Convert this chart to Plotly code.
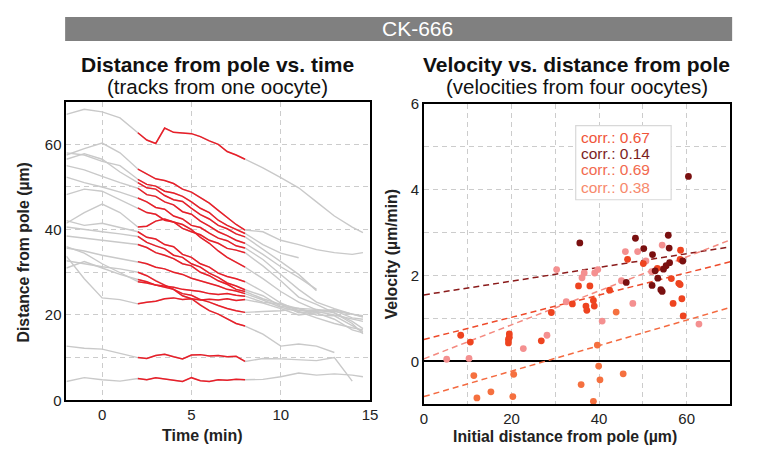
import plotly.graph_objects as go

# ---------------- data: left panel (tracks) ----------------
time_min = [-2, -1, 0, 1, 2, 2.5, 3, 3.5, 4, 4.5, 5, 5.5, 6, 6.5, 7, 7.5, 8,
            9, 10, 11, 12, 13, 14, 14.6]
red_start, red_end = 2, 8  # window used for velocity (min)

track_01 = [67.0, 68.2, 67.6, 66.2, 62.7, 61.0, 60.2, 63.8, 62.8, 62.6, 62.5, 61.8, 60.8, 60.0, 58.3, 57.5, 56.5, 54.5, 52.2, 49.8, 46.5, 43.2, 40.6, 39.3]
track_02 = [57.5, 59.0, 60.3, 58.0, 54.2, 53.0, 51.9, 51.5, 50.8, 49.5, 48.8, 47.5, 46.2, 44.5, 42.8, 41.2, 39.9, 39.5, 37.5, 36.5, 35.3, 34.6, 34.2, 34.6]
track_03 = [58.0, 57.5, 56.0, 55.0, 51.8, 50.6, 50.2, 49.0, 48.6, 47.8, 46.5, 45.0, 44.0, 42.2, 41.0, 40.1, 39.1, 36.5, 34.5, 33.4, None, None, None, None]
track_04 = [56.5, 57.8, 56.5, 53.5, 51.0, 49.8, 49.5, 48.0, 47.0, 46.6, 45.0, 43.5, 42.5, 41.0, 40.2, 39.0, 38.3, 35.5, 32.5, 29.5, 25.7, None, None, None]
track_05 = [55.0, 54.0, 52.5, 51.0, 49.7, 48.2, 47.8, 46.5, 45.8, 44.2, 43.6, 42.0, 40.8, 39.5, 38.6, 37.5, 36.8, 34.2, 31.3, 28.8, 26.0, None, None, None]
track_06 = [52.3, 51.0, 50.0, 48.8, 47.4, 46.5, 45.2, 44.8, 43.2, 42.5, 41.0, 40.5, 39.2, 38.0, 37.4, 36.2, 35.7, 33.0, 29.5, 26.0, 23.0, 21.5, 20.2, 19.5]
track_07 = [48.2, 49.5, 49.0, 47.0, 45.1, 44.0, 43.6, 42.2, 41.8, 40.3, 39.5, 38.8, 37.5, 36.8, 35.6, 35.2, 34.6, 31.5, 28.0, 24.2, 22.5, 20.5, 18.5, 16.8]
track_08 = [41.5, 44.0, 46.0, 44.0, 40.6, 40.8, 42.0, 42.5, 41.8, 41.2, 40.0, 38.2, 36.8, 35.0, 33.5, 32.4, 31.2, 28.5, 25.5, 23.0, 21.2, 20.5, 18.0, 15.6]
track_09 = [42.1, 41.0, 41.5, 40.5, 39.5, 38.2, 37.8, 36.5, 36.0, 34.2, 33.5, 32.0, 31.2, 29.8, 29.0, 28.5, 27.8, 25.5, 22.8, 21.0, 21.0, 21.2, 20.2, 19.8]
track_10 = [40.6, 40.0, 39.5, 39.0, 38.4, 37.0, 36.2, 35.5, 34.0, 33.5, 32.0, 31.2, 29.8, 28.8, 27.5, 26.8, 25.9, 24.5, 22.0, 21.5, 20.0, 19.8, 17.5, 16.1]
track_11 = [38.5, 38.0, 37.5, 37.0, 36.5, 35.8, 34.6, 34.0, 33.2, 32.0, 31.5, 30.0, 29.2, 28.0, 27.2, 26.0, 25.5, 23.8, 22.5, 20.5, 20.8, 20.0, 19.0, 18.5]
track_12 = [35.7, 35.0, 34.0, 33.2, 32.5, 32.0, 31.2, 30.8, 30.0, 29.5, 28.6, 28.0, 27.3, 26.8, 26.0, 25.6, 25.0, 23.5, 21.8, 20.8, 19.3, 18.0, 17.0, 16.5]
track_13 = [32.7, 32.0, 31.3, 30.8, 30.0, 29.2, 28.0, 27.0, 26.0, 24.5, 23.8, 22.3, 21.0, 20.2, 19.0, 18.0, 17.4, 15.5, 12.7, 13.2, 12.7, 11.2, None, None]
track_14 = [31.0, 32.5, 31.0, 29.5, 28.3, 27.8, 27.0, 26.5, 26.0, 25.0, 24.6, 23.6, 23.0, 22.2, 21.5, 21.0, 20.6, 20.8, 21.0, 21.5, 21.3, 20.8, 20.2, 19.6]
track_15 = [36.0, 34.5, 32.0, 29.8, 27.8, 27.5, 27.0, 26.8, 26.5, 26.0, 25.7, 25.5, 25.0, 24.8, 25.0, 24.6, 24.4, 23.0, 22.5, 21.5, 20.5, 19.0, 16.5, 15.8]
track_16 = [33.8, 28.5, 24.0, 23.6, 22.6, 23.0, 23.2, 23.8, 24.0, 23.6, 23.8, 23.5, 23.7, 23.5, 23.8, 23.4, 23.6, 22.8, 21.5, 20.0, 20.5, 21.0, 19.3, 19.0]
track_17 = [12.7, 12.2, 12.0, 11.0, 10.0, 9.8, 10.5, 10.8, 10.2, 9.7, 10.6, 10.7, 10.4, 10.5, 10.2, 10.3, 9.1, 9.8, 9.7, 9.5, 9.3, 10.0, 4.5, None]
track_18 = [4.4, 5.3, 4.8, 4.5, 5.1, 4.8, 5.3, 5.0, 4.8, 4.4, 5.3, 4.6, 4.4, 4.8, 4.7, 4.9, 4.8, 4.9, 5.5, 6.4, 5.9, 6.2, 5.9, 5.5]

tracks = [track_01, track_02, track_03, track_04, track_05, track_06, track_07,
          track_08, track_09, track_10, track_11, track_12, track_13, track_14,
          track_15, track_16, track_17, track_18]

# ---------------- data: right panel (velocities) ----------------
s1_dist = [35.3, 33.9, 29.1, 8.4, 10.6, 19.5, 19.5, 19.3, 19.3, 26.8, 37.9, 42.4, 38.7, 38.9,
           37.0, 37.2, 46.5, 50.1, 53.3, 56.5, 58.2, 58.5, 58.6, 58.5, 56.9, 58.9, 59.2]
s1_vel = [1.76, 1.34, 1.14, 0.61, 0.45, 0.64, 0.56, 0.51, 0.43, 0.48, 1.76, 1.66, 1.42, 1.29,
          1.29, 1.19, 2.38, 2.28, 2.17, 1.93, 1.82, 1.79, 2.59, 2.38, 1.35, 1.46, 1.06]
s2_dist = [35.6, 48.3, 55.8, 56.0, 50.2, 52.2, 59.1, 56.1, 55.3, 52.8, 54.7, 53.4, 46.2,
           52.1, 54.1, 54.4, 60.4]
s2_vel = [2.76, 2.87, 2.94, 2.64, 2.63, 2.49, 2.34, 2.30, 2.23, 2.11, 2.15, 1.94, 1.84,
          1.77, 1.67, 1.63, 4.31]
s3_dist = [5.2, 10.3, 22.7, 28.1, 30.3, 32.5, 36.6, 36.1, 39.0, 39.7, 45.1, 46.0, 48.8,
           54.4, 50.7, 52.0, 47.7, 40.7, 62.8]
s3_vel = [0.05, 0.07, 0.30, 0.61, 2.14, 1.39, 2.06, 1.95, 2.06, 2.14, 1.88, 2.56, 2.56,
          2.71, 2.34, 2.09, 1.35, 0.94, 0.87]
s4_dist = [11.4, 20.5, 15.3, 12.1, 20.3, 35.9, 39.9, 45.5, 40.2, 38.7, 39.6, 43.9]
s4_vel = [-0.33, -0.30, -0.71, -0.85, -0.82, -0.54, -0.11, -0.29, -0.43, -0.93, 0.38, 1.15]

fit_intercepts = [0.51, 1.55, 0.06, -0.82]
fit_slopes = [0.0259, 0.0160, 0.0396, 0.0297]
corr_labels = ["corr.: 0.67", "corr.: 0.14", "corr.: 0.69", "corr.: 0.38"]

# styles
marker_colors = ["#EE4420", "#7A1010", "#F49090", "#F5703F"]
line_colors = ["#EE4A2A", "#8A1A1A", "#F48A80", "#F46A40"]
legend_text_colors = ["#F0553A", "#7B1E1E", "#F26A4F", "#F7896C"]
GRAY = "#C9C9C9"
RED = "#EA1E28"
FONT = "Liberation Sans, Arial, sans-serif"

# the page body keeps its default 8px margin, so the figure is sized to fit the window
OX, OY = 8, 8
W, H = 741, 445


def px(x):
    return (x - OX) / W


def py(y):
    return 1 - (y - OY) / H


fig = go.Figure()

# left panel tracks
for tr in tracks:
    fig.add_trace(go.Scatter(x=time_min, y=tr, mode="lines",
                             line=dict(color=GRAY, width=1.4),
                             connectgaps=False, hoverinfo="skip",
                             xaxis="x", yaxis="y"))
for tr in tracks:
    seg_t = [t for t in time_min if red_start <= t <= red_end]
    seg_v = [v for t, v in zip(time_min, tr) if red_start <= t <= red_end]
    fig.add_trace(go.Scatter(x=seg_t, y=seg_v, mode="lines",
                             line=dict(color=RED, width=1.5),
                             hoverinfo="skip", xaxis="x", yaxis="y"))

# right panel fits
for b, m, c in zip(fit_intercepts, fit_slopes, line_colors):
    xs = [0, 70]
    fig.add_trace(go.Scatter(x=xs, y=[b + m * x for x in xs], mode="lines",
                             line=dict(color=c, width=1.5, dash="6px,4px"),
                             hoverinfo="skip", xaxis="x2", yaxis="y2"))

series = [(s1_dist, s1_vel), (s2_dist, s2_vel), (s3_dist, s3_vel), (s4_dist, s4_vel)]
for idx in [2, 3, 0, 1]:
    xd, yd = series[idx]
    fig.add_trace(go.Scatter(x=xd, y=yd, mode="markers",
                             marker=dict(color=marker_colors[idx], size=6.8, line=dict(width=0)),
                             xaxis="x2", yaxis="y2"))

grid = dict(showgrid=True, gridcolor="#CCCCCC", gridwidth=1, griddash="5px,4px")
axis_common = dict(showline=True, linecolor="black", linewidth=1.8, mirror=True,
                   ticks="", tickfont=dict(family=FONT, size=15, color="#222"),
                   **grid)

fig.update_layout(
    width=W, height=H, autosize=False,
    margin=dict(l=0, r=0, t=0, b=0),
    paper_bgcolor="white", plot_bgcolor="white",
    showlegend=False,
    font=dict(family=FONT, color="#222"),
    xaxis=dict(domain=[px(63.3), px(372)], range=[-2, 15.001], tickvals=[0, 5, 10, 15],
               zeroline=False, anchor="y", **axis_common),
    yaxis=dict(domain=[py(406.5), py(96)], range=[0, 70], tickvals=[0, 20, 40, 60],
               zeroline=False, anchor="x",
               minor=dict(tickvals=[10, 30, 50], **grid), **axis_common),
    xaxis2=dict(domain=[px(426.7), px(738.3)], range=[0, 70], tickvals=[0, 20, 40, 60],
                zeroline=False, anchor="y2",
                minor=dict(tickvals=[10, 30, 50], **grid), **axis_common),
    yaxis2=dict(domain=[py(410.7), py(98.3)], range=[-1, 6.002], tickvals=[0, 2, 4, 6],
                zeroline=True, zerolinecolor="black", zerolinewidth=1.5, anchor="x2",
                minor=dict(tickvals=[1, 3, 5], **grid), **axis_common),
)

shapes = [
    dict(type="rect", xref="paper", yref="paper", x0=px(62), x1=px(740), y0=py(33), y1=1,
         fillcolor="#808080", line=dict(width=0), layer="below"),
    dict(type="rect", xref="paper", yref="paper", x0=px(581), x1=px(678), y0=py(198), y1=py(121),
         fillcolor="white", line=dict(color="#D8D8D8", width=1.2), layer="above"),
]
fig.update_layout(shapes=shapes)


def label(text, x, y, size, color="#222", angle=0, xanchor="center"):
    return dict(text=text, x=px(x), y=py(y), xref="paper", yref="paper",
                xanchor=xanchor, yanchor="middle", textangle=angle, showarrow=False,
                borderpad=0, font=dict(family=FONT, size=size, color=color))


ann = [
    label("CK-666", 420, 20, 21, "white"),
    label("<b>Distance from pole vs. time</b>", 217, 57, 21, "#111"),
    label("(tracks from one oocyte)", 217, 80, 20.5, "#111"),
    label("<b>Velocity vs. distance from pole</b>", 582, 57, 21, "#111"),
    label("(velocities from four oocytes)", 582, 80, 20.5, "#111"),
    label("<b>Time (min)</b>", 202, 443, 16),
    label("<b>Initial distance from pole (µm)</b>", 570, 444, 15.8),
    label("<b>Distance from pole (µm)</b>", 20, 253, 15.8, angle=-90),
    label("<b>Velocity (µm/min)</b>", 394, 255, 15.8, angle=-90),
]
for lbl, c, yy in zip(corr_labels, legend_text_colors, [133, 150, 167, 185]):
    ann.append(label(lbl, 585, yy, 15.5, c, xanchor="left"))
fig.update_layout(annotations=ann)

fig.write_html("out.html", config={"displayModeBar": False, "responsive": False})
